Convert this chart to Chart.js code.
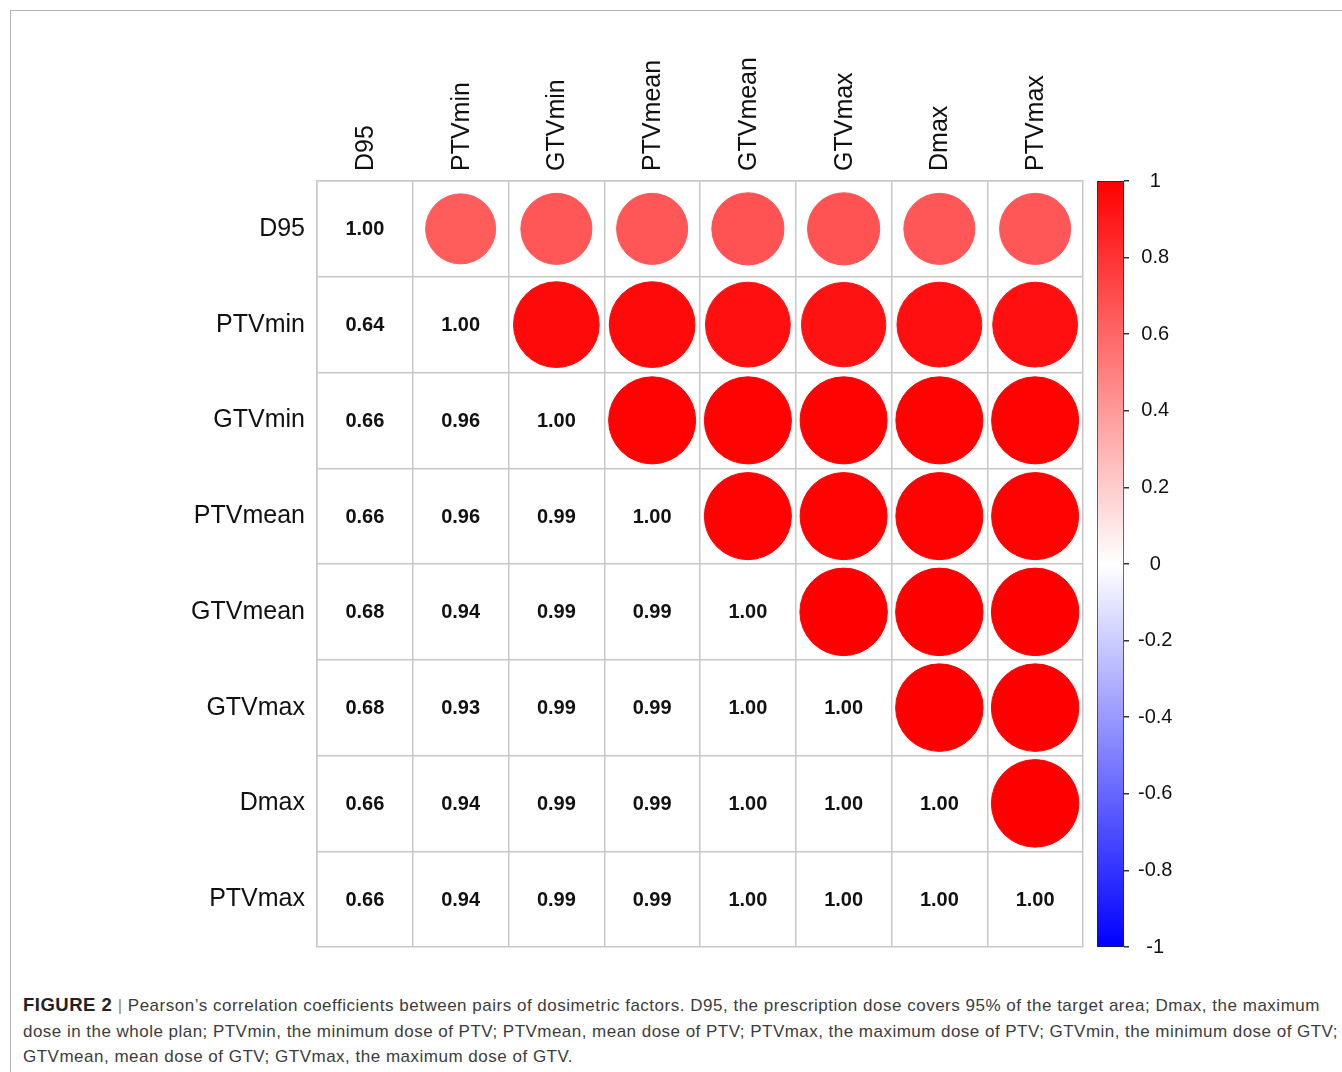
<!DOCTYPE html>
<html>
<head>
<meta charset="utf-8">
<script src="https://cdn.jsdelivr.net/npm/chart.js@4.4.1/dist/chart.umd.min.js"></script>
<style>
  html, body { margin: 0; padding: 0; background: #fff; overflow: hidden; }
  body { width: 1342px; height: 1072px; position: relative; font-family: "Liberation Sans", Arial, sans-serif; }
  #frame { position: absolute; left: 10px; top: 10px; width: 1400px; height: 1200px;
           border-top: 1.5px solid #b4b4b4; border-left: 1.5px solid #b4b4b4; }
  #corrChart { position: absolute; left: 0; top: 0; }
  #scaleChart { position: absolute; left: 1090px; top: 0; }
  #caption { position: absolute; left: 23px; top: 992px; font-size: 17px; line-height: 25.5px;
             color: #3c3c3c; white-space: nowrap; }
  #caption div { display: block; width: max-content; }
  #caption b { color: #222; font-size: 18.5px; }
</style>
</head>
<body>
<div id="frame"></div>
<canvas id="corrChart" width="1090" height="960"></canvas>
<canvas id="scaleChart" width="220" height="960"></canvas>
<div id="caption">
  <div data-w="1297"><b>FIGURE 2</b> <span style="color:#888">|</span> Pearson’s correlation coefficients between pairs of dosimetric factors. D95, the prescription dose covers 95% of the target area; Dmax, the maximum</div>
  <div data-w="1315">dose in the whole plan; PTVmin, the minimum dose of PTV; PTVmean, mean dose of PTV; PTVmax, the maximum dose of PTV; GTVmin, the minimum dose of GTV;</div>
  <div data-w="550">GTVmean, mean dose of GTV; GTVmax, the maximum dose of GTV.</div>
</div>
<script>
// variables, in plot order
const vars = ["D95", "PTVmin", "GTVmin", "PTVmean", "GTVmean", "GTVmax", "Dmax", "PTVmax"];

// lower triangle of the correlation matrix (row i, columns 0..i)
const rowD95     = [1.00];
const rowPTVmin  = [0.64, 1.00];
const rowGTVmin  = [0.66, 0.96, 1.00];
const rowPTVmean = [0.66, 0.96, 0.99, 1.00];
const rowGTVmean = [0.68, 0.94, 0.99, 0.99, 1.00];
const rowGTVmax  = [0.68, 0.93, 0.99, 0.99, 1.00, 1.00];
const rowDmax    = [0.66, 0.94, 0.99, 0.99, 1.00, 1.00, 1.00];
const rowPTVmax  = [0.66, 0.94, 0.99, 0.99, 1.00, 1.00, 1.00, 1.00];
const lower = [rowD95, rowPTVmin, rowGTVmin, rowPTVmean, rowGTVmean, rowGTVmax, rowDmax, rowPTVmax];

// colour bar ticks
const cbTicks = [1, 0.8, 0.6, 0.4, 0.2, 0, -0.2, -0.4, -0.6, -0.8, -1];

function corrColor(v) {
  if (v >= 0) {
    const c = Math.round(255 * (1 - v));
    return `rgb(255,${c},${c})`;
  }
  const c = Math.round(255 * (1 + v));
  return `rgb(${c},${c},255)`;
}

// upper triangle -> circles
const circles = [];
for (let i = 0; i < vars.length; i++) {
  for (let j = i + 1; j < vars.length; j++) {
    circles.push({ x: vars[j], y: vars[i], v: lower[j][i] });
  }
}

const labelFont = { family: "'Liberation Sans', Arial, sans-serif", size: 25 };
const gridGray = "#c8c8c8";

// no extra room for half labels at the axis ends
function noEndPadding(s) {
  s.paddingTop = 0; s.paddingBottom = 0; s.paddingLeft = 0; s.paddingRight = 0;
}

const cellText = {
  id: "cellText",
  afterDatasetsDraw(chart) {
    const { ctx, scales: { x, y } } = chart;
    ctx.save();
    ctx.font = "bold 20px 'Liberation Sans', Arial, sans-serif";
    ctx.fillStyle = "#111";
    ctx.textAlign = "center";
    ctx.textBaseline = "middle";
    lower.forEach((row, i) => {
      row.forEach((v, j) => {
        ctx.fillText(v.toFixed(2), x.getPixelForValue(j), y.getPixelForValue(i) + 1);
      });
    });
    ctx.restore();
  }
};

new Chart(document.getElementById("corrChart"), {
  type: "scatter",
  data: {
    datasets: [{
      data: circles,
      showLine: false,
      pointBackgroundColor: ctx => ctx.raw ? corrColor(ctx.raw.v) : "red",
      pointBorderColor: ctx => ctx.raw ? corrColor(ctx.raw.v) : "red",
      pointBorderWidth: 1,
      pointRadius: ctx => {
        if (!ctx.raw) return 0;
        const cell = ctx.chart.scales.x.width / vars.length;
        return 0.457 * cell * Math.sqrt(Math.abs(ctx.raw.v));
      }
    }]
  },
  options: {
    responsive: false,
    animation: false,
    events: [],
    layout: { padding: { left: 117, top: 11, right: 7, bottom: 13 } },
    plugins: { legend: { display: false }, tooltip: { enabled: false } },
    scales: {
      x: {
        type: "category",
        labels: vars,
        position: "top",
        offset: true,
        grid: { offset: true, color: gridGray, lineWidth: 1.5, drawTicks: false },
        border: { color: gridGray, width: 1.5 },
        ticks: { autoSkip: false, minRotation: 90, maxRotation: 90, padding: 10, labelOffset: 31,
                 color: "#111", font: labelFont },
        afterFit: s => { s.height = 170; noEndPadding(s); }
      },
      y: {
        type: "category",
        labels: vars,
        offset: true,
        grid: { offset: true, color: gridGray, lineWidth: 1.5, drawTicks: false },
        border: { color: gridGray, width: 1.5 },
        ticks: { autoSkip: false, padding: 12, color: "#111", font: labelFont },
        afterFit: s => { s.width = 200; noEndPadding(s); }
      }
    }
  },
  plugins: [cellText]
});

new Chart(document.getElementById("scaleChart"), {
  type: "bar",
  data: {
    labels: [""],
    datasets: [{
      data: [[-1, 1]],
      backgroundColor: ctx => {
        const a = ctx.chart.chartArea;
        if (!a) return "#ff0000";
        const g = ctx.chart.ctx.createLinearGradient(0, a.top, 0, a.bottom);
        g.addColorStop(0, "#ff0000");
        g.addColorStop(0.5, "#ffffff");
        g.addColorStop(1, "#0000ff");
        return g;
      },
      borderColor: "#222",
      borderWidth: 1,
      borderSkipped: false,
      barPercentage: 1,
      categoryPercentage: 1
    }]
  },
  options: {
    responsive: false,
    animation: false,
    events: [],
    layout: { padding: { left: 7, top: 181, right: 106, bottom: 13 } },
    plugins: { legend: { display: false }, tooltip: { enabled: false } },
    scales: {
      x: { display: false },
      y: {
        position: "right",
        min: -1,
        max: 1,
        afterBuildTicks: s => { s.ticks = cbTicks.map(v => ({ value: v })); },
        grid: { drawOnChartArea: false, tickLength: 5, color: "#333", lineWidth: 1.5 },
        border: { display: false },
        ticks: { crossAlign: "center", padding: 9, color: "#111",
                 font: { family: "'Liberation Sans', Arial, sans-serif", size: 20 },
                 callback: v => String(v) },
        afterFit: s => { s.width = 80; noEndPadding(s); }
      }
    }
  }
});

// stretch caption lines to the widths of the original typesetting
document.querySelectorAll("#caption div").forEach(el => {
  const target = +el.dataset.w;
  const w = el.getBoundingClientRect().width;
  const n = el.textContent.length;
  el.style.letterSpacing = ((target - w) / n).toFixed(3) + "px";
});
</script>
</body>
</html>
